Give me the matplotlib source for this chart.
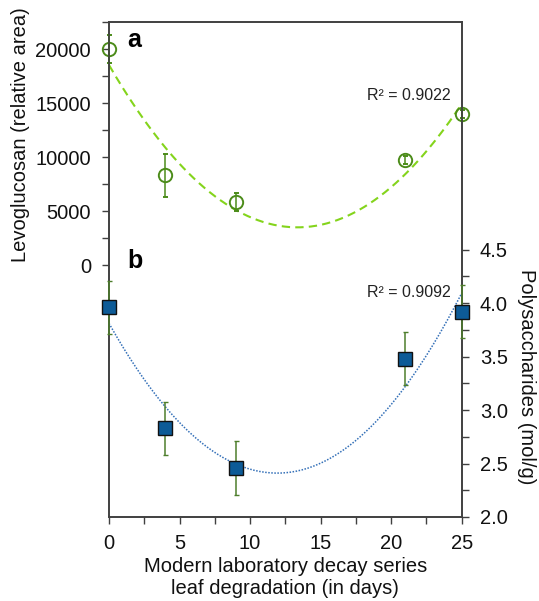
import numpy as np
import matplotlib
matplotlib.use('Agg')
import matplotlib.pyplot as plt

plt.rcParams['font.family'] = ['Liberation Sans', 'DejaVu Sans']

# leaf decay series (days)
days = [0, 4, 9, 21, 25]

# a: levoglucosan (relative area)
levo = [20000, 8300, 5840, 9730, 13970]
levo_err = [1300, 1970, 870, 350, 350]

# b: polysaccharides (mol/g)
poly = [3.96, 2.83, 2.46, 3.48, 3.92]
poly_err = [0.25, 0.25, 0.25, 0.25, 0.25]

r2_levo = 'R² = 0.9022'
r2_poly = 'R² = 0.9092'

SPINE = '#404040'
FS = 14.5

fig = plt.figure(figsize=(5.39, 6.01), dpi=100)
ax = fig.add_axes([0.2022, 0.1398, 0.6544, 0.8236])
ax2 = ax.twinx()

xs = np.linspace(0, 25, 200)

# --- a
c = np.polyfit(days, levo, 2)
ax.plot(xs, np.polyval(c, xs), color='#84D41C', lw=1.5, ls=(0, (4, 2.5)), zorder=2)
ax.errorbar(days, levo, yerr=levo_err, fmt='o', ms=9.6, mfc='none', mec='#4C8C1A',
            mew=1.4, ecolor='#4C8C1A', elinewidth=1.1, capsize=1.8, clip_on=False, zorder=3)

# --- b
c2 = np.polyfit(days, poly, 2)
ax2.plot(xs, np.polyval(c2, xs), color='#3470B8', lw=1.1, ls=(0, (1, 1)), zorder=2)
ax2.errorbar(days, poly, yerr=poly_err, fmt='s', ms=10, mfc='#0D5B97', mec='#111111',
             mew=1.0, ecolor='#4E7E2C', elinewidth=1.1, capsize=1.8, clip_on=False, zorder=3)

ax.set_xlim(0, 25)
ax.set_ylim(-23290, 22360)
ax2.set_ylim(2.0, 6.63)

ax.set_xticks(np.arange(0, 26, 5))
ax.set_xticks(np.arange(2.5, 25, 5), minor=True)
ax.set_yticks(np.arange(0, 20001, 5000))
ax.set_yticks(np.arange(2500, 22501, 5000), minor=True)
ax2.set_yticks([2.0, 2.5, 3.0, 3.5, 4.0, 4.5])
ax2.set_yticks([2.25, 2.75, 3.25, 3.75, 4.25], minor=True)
ax2.set_yticklabels(['2.0', '2.5', '3.0', '3.5', '4.0', '4.5'])

for a in (ax, ax2):
    for s in a.spines.values():
        s.set_color(SPINE)
        s.set_linewidth(1.2)
    a.tick_params(which='both', direction='out', length=5, width=1.0, color=SPINE,
                  labelsize=FS, labelcolor='#111111')
ax.tick_params(axis='y', pad=8)
ax.tick_params(axis='x', pad=7)
ax2.tick_params(axis='y', pad=8)

ax.set_ylabel('Levoglucosan (relative area)', fontsize=FS, color='#111111', va='center')
ax.yaxis.set_label_coords(-0.25, 0.772)
ax2.set_ylabel('Polysaccharides (mol/g)', fontsize=FS, color='#111111', rotation=270, va='center')
ax2.yaxis.set_label_coords(1.185, 0.283)
ax.set_xlabel('Modern laboratory decay series\nleaf degradation (in days)', fontsize=FS,
              color='#111111', labelpad=3)

ax.text(0.051, 0.950, 'a', transform=ax.transAxes, fontsize=18, fontweight='bold')
ax.text(0.051, 0.502, 'b', transform=ax.transAxes, fontsize=18, fontweight='bold')
ax.text(0.969, 0.842, r2_levo, transform=ax.transAxes, fontsize=11.5, ha='right', color='#222222')
ax.text(0.969, 0.445, r2_poly, transform=ax.transAxes, fontsize=11.5, ha='right', color='#222222')

fig.savefig('out.png', dpi=100)
